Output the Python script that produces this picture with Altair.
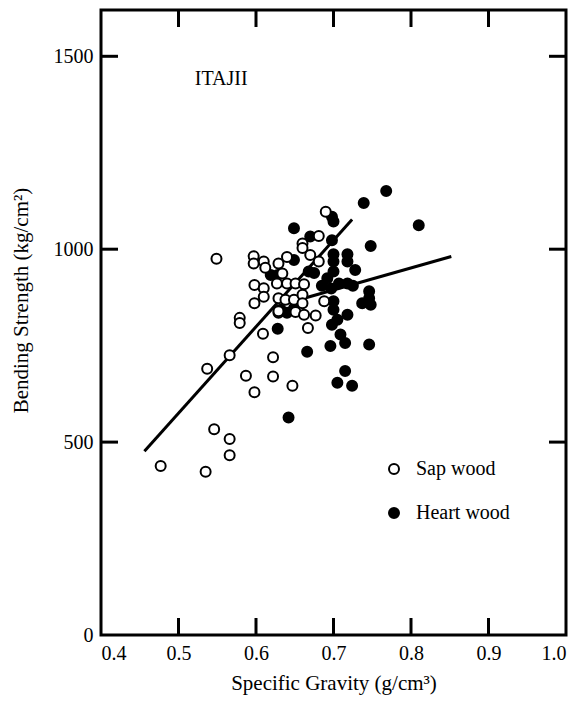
import altair as alt
import pandas as pd

# ---- data ----
sap_x = [0.477, 0.535, 0.546, 0.566, 0.566,
         0.537, 0.566, 0.579, 0.579, 0.587, 0.598, 0.609, 0.622, 0.622, 0.647,
         0.549,
         0.597, 0.597, 0.610, 0.612, 0.629, 0.640, 0.634,
         0.598, 0.610, 0.598, 0.610, 0.629, 0.629,
         0.627, 0.640, 0.651, 0.662,
         0.638, 0.649, 0.660, 0.660, 0.651, 0.662, 0.677, 0.688, 0.629,
         0.660, 0.660, 0.681, 0.690, 0.670, 0.681, 0.667]
sap_y = [438, 423, 533, 508, 466,
         690, 725, 822, 809, 672, 629, 781, 720, 670, 646,
         975,
         982, 963, 968, 952, 963, 980, 937,
         907, 899, 860, 877, 873, 835,
         911, 911, 911, 909,
         869, 869, 882, 860, 837, 830, 828, 865, 839,
         1015, 1003, 1034, 1097, 985, 968, 796]

heart_x = [0.642, 0.628, 0.640, 0.632, 0.649, 0.619, 0.628, 0.649,
           0.768, 0.739, 0.810, 0.698, 0.700, 0.649, 0.748, 0.670, 0.698,
           0.700, 0.718, 0.700, 0.718, 0.728, 0.668, 0.700, 0.675,
           0.692, 0.707, 0.718, 0.685, 0.697, 0.725,
           0.746, 0.746, 0.737, 0.748,
           0.700, 0.700, 0.718, 0.705, 0.698, 0.709, 0.715, 0.696, 0.746, 0.666,
           0.715, 0.705, 0.724]
heart_y = [564, 794, 835, 843, 847, 933, 933, 972,
           1151, 1120, 1062, 1084, 1072, 1054, 1008, 1033, 1023,
           987, 987, 968, 968, 946, 942, 942, 938,
           925, 911, 911, 905, 898, 905,
           891, 873, 860, 856,
           865, 843, 830, 817, 804, 779, 757, 749, 753, 734,
           684, 654, 646]

sap_line_x = [0.456, 0.724]
sap_line_y = [476, 1077]
heart_line_x = [0.636, 0.852]
heart_line_y = [858, 981]

series = ["Sap wood", "Heart wood"]
x_ticks = [0.4, 0.5, 0.6, 0.7, 0.8, 0.9, 1.0]
x_inner_ticks = [0.5, 0.6, 0.7, 0.8, 0.9]
y_ticks = [0, 500, 1000, 1500]
y_inner_ticks = [500, 1000, 1500]
species = ["ITAJII"]
species_x = [0.555]
species_y = [1440]

# ---- tables ----
pts = pd.concat([
    pd.DataFrame({"sg": heart_x, "bs": heart_y, "wood": series[1]}),
    pd.DataFrame({"sg": sap_x, "bs": sap_y, "wood": series[0]}),
], ignore_index=True)
lines_df = pd.concat([
    pd.DataFrame({"sg": sap_line_x, "bs": sap_line_y, "grp": series[0]}),
    pd.DataFrame({"sg": heart_line_x, "bs": heart_line_y, "grp": series[1]}),
], ignore_index=True)
xt_df = pd.DataFrame({"sg": x_inner_ticks})
yt_df = pd.DataFrame({"bs": y_inner_ticks})
lab_df = pd.DataFrame({"sg": species_x, "bs": species_y, "name": species})

W, H = 465, 625
FONT = "Liberation Serif"
TL = 17

xs = alt.Scale(domain=[0.4, 1.0], nice=False, zero=False)
ys = alt.Scale(domain=[0, 1620], nice=False, zero=True)

X = alt.X("sg:Q", scale=xs, title="Specific Gravity (g/cm³)",
          axis=alt.Axis(values=x_ticks, format=".1f", labelFont=FONT, labelFontSize=20,
                        labelPadding=8, titleFont=FONT, titleFontSize=21,
                        titleFontWeight="normal", titlePadding=9,
                        grid=False, ticks=False, domain=False,
                        labelColor="black", titleColor="black"))
Y = alt.Y("bs:Q", scale=ys, title="Bending Strength (kg/cm²)",
          axis=alt.Axis(values=y_ticks, format="d", labelFont=FONT, labelFontSize=20,
                        labelPadding=8, titleFont=FONT, titleFontSize=21,
                        titleFontWeight="normal", titleX=-80, titleY=290,
                        titleAlign="center", titleBaseline="middle",
                        grid=False, ticks=False, domain=False,
                        labelColor="black", titleColor="black"))

lines = alt.Chart(lines_df).mark_line(color="black", strokeWidth=3).encode(
    x=X, y=Y, detail="grp:N")

points = alt.Chart(pts).mark_point(shape="circle", filled=True, size=100,
                                   stroke="black", strokeWidth=2, opacity=1).encode(
    x=X, y=Y,
    fill=alt.Fill("wood:N", scale=alt.Scale(domain=series, range=["white", "black"]),
                  legend=alt.Legend(title=None, orient="none", legendX=283, legendY=449,
                                    symbolType="circle", symbolSize=100,
                                    symbolStrokeColor="black", symbolStrokeWidth=2,
                                    symbolOpacity=1, labelFont=FONT, labelFontSize=20,
                                    labelColor="black",
                                    labelOffset=12, rowPadding=24)))

bottom_ticks = alt.Chart(xt_df).mark_rule(color="black", strokeWidth=3).encode(
    x=X, y=alt.value(H), y2=alt.value(H - TL))
top_ticks = alt.Chart(xt_df).mark_rule(color="black", strokeWidth=3).encode(
    x=X, y=alt.value(0), y2=alt.value(TL))
left_ticks = alt.Chart(yt_df).mark_rule(color="black", strokeWidth=3).encode(
    y=Y, x=alt.value(0), x2=alt.value(TL))
right_ticks = alt.Chart(yt_df).mark_rule(color="black", strokeWidth=3).encode(
    y=Y, x=alt.value(W), x2=alt.value(W - TL))

label = alt.Chart(lab_df).mark_text(font=FONT, fontSize=20, align="center",
                                    baseline="middle", color="black").encode(
    x=X, y=Y, text="name:N")

chart = alt.layer(lines, bottom_ticks, top_ticks, left_ticks, right_ticks, label, points).properties(
    width=W, height=H,
    padding={"left": 93, "top": 2, "right": 12, "bottom": 60},
    autosize=alt.AutoSizeParams(type="none"),
    background="white",
).configure_view(stroke="black", strokeWidth=3)

chart.save("out.html", embed_options={"renderer": "svg", "actions": False})
